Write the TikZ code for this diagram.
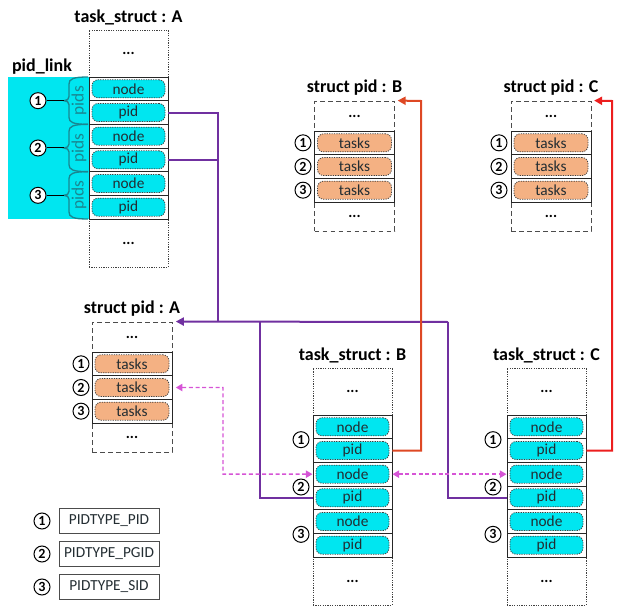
\documentclass[tikz,border=0pt]{standalone}
\usepackage{fontspec}
\setmainfont{Carlito}
\usetikzlibrary{arrows.meta}
\definecolor{cyanF}{RGB}{0,230,240}
\definecolor{orangeF}{RGB}{244,177,131}
\definecolor{tealB}{RGB}{25,135,145}
\definecolor{purpL}{RGB}{112,48,160}
\definecolor{redB}{RGB}{222,72,36}
\definecolor{redC}{RGB}{236,30,30}
\definecolor{pinkL}{RGB}{214,84,214}
\definecolor{txtD}{RGB}{35,45,50}
\tikzset{
  txt/.style={font=\fontsize{11.5}{13}\selectfont},
  ttl/.style={font=\bfseries\fontsize{13.5}{15}\selectfont, inner sep=0pt},
  dots/.style={font=\bfseries\fontsize{11.5}{13}\selectfont, inner sep=0pt},
  tsouter/.style={draw=black!75, line width=0.6pt, dash pattern=on 0.9pt off 0.9pt, minimum width=59.25pt, minimum height=177.75pt, inner sep=0pt},
  spouter/.style={draw=black!70, line width=0.7pt, dash pattern=on 3.5pt off 2.5pt, minimum width=60pt, minimum height=97.5pt, inner sep=0pt},
  cell/.style={draw=black!85, line width=0.7pt, minimum width=59.25pt, minimum height=17.75pt, inner sep=0pt},
  spcell/.style={cell, minimum width=60pt},
  nbox/.style={draw=black!75, fill=cyanF, dash pattern=on 0.9pt off 0.9pt, line width=0.6pt, rounded corners=4.5pt, minimum width=54.75pt, minimum height=13.5pt, inner sep=0pt, txt, text=txtD},
  tbox/.style={nbox, fill=orangeF, minimum width=55.5pt},
  num/.style={circle, draw=black, line width=0.75pt, fill=white, minimum size=12pt, inner sep=0pt, font=\bfseries\fontsize{10.5}{11}\selectfont},
  legbox/.style={draw=black!70, line width=0.7pt, minimum width=75pt, minimum height=18.75pt, inner sep=0pt, txt, text=txtD},
  conn/.style={line width=1.5pt},
  tip/.style={-{Triangle[length=6pt,width=6pt]}},
  dtip/.style={{Triangle[length=5pt,width=5.5pt]}-{Triangle[length=5pt,width=5.5pt]}},
  pinkd/.style={draw=pinkL, line width=1.1pt, dash pattern=on 3pt off 2pt},
}
\newcommand\TaskS[4]{%
  \node[ttl] (#1-t) at (#2,{#3-13}) {#4};
  \node[tsouter] (#1) at (#2,{#3+118.5}) {};
  \node[dots] (#1-d1) at (#2,{#3+23.5}) {...};
  \node[dots] (#1-d2) at (#2,{#3+213}) {...};
  \foreach \i/\lab in {1/node,2/pid,3/node,4/pid,5/node,6/pid}{
    \node[cell] (#1-r\i) at (#2,{#3+47+(\i-0.5)*23.67}) {};
    \node[nbox] (#1-b\i) at (#2,{#3+47+(\i-0.5)*23.67}) {\lab};
  }
}
\newcommand\StructP[4]{%
  \node[ttl] (#1-t) at (#2,{#3-13}) {#4};
  \node[spouter] (#1) at (#2,{#3+65}) {};
  \node[dots] (#1-d1) at (#2,{#3+15}) {...};
  \node[dots] (#1-d2) at (#2,{#3+115.5}) {...};
  \foreach \i in {1,2,3}{
    \node[spcell] (#1-r\i) at (#2,{#3+30+(\i-0.5)*23.67}) {};
    \node[tbox] (#1-b\i) at (#2,{#3+30+(\i-0.5)*23.67}) {tasks};
  }
}
\begin{document}
\begin{tikzpicture}[x=0.75pt,y=-0.75pt]
\useasboundingbox (0,0) rectangle (621,613);
% pid_link background
\fill[cyanF] (8,77) rectangle (89,219);
\node[ttl] (pl) at (42,67) {pid\_link};
% structures
\TaskS{tA}{128.5}{30}{task\_struct : A}
\TaskS{tB}{352.5}{368}{task\_struct : B}
\TaskS{tC}{546.5}{368}{task\_struct : C}
\StructP{pA}{132}{322}{struct pid : A}
\StructP{pB}{354.5}{101}{struct pid : B}
\StructP{pC}{551}{101}{struct pid : C}
% braces
\foreach \k/\ya in {1/77,2/124.33,3/171.67}{
  \pgfmathsetmacro\yb{\ya+47.33}
  \pgfmathsetmacro\ym{\ya+23.67}
  \draw[tealB, line width=1pt] (88,\ya) .. controls (73,\ya) and (69,{\ya+2}) .. (69,{\ya+7}) -- (69,{\ym-4}) .. controls (69,{\ym-1.5}) and (67,\ym) .. (64,\ym) .. controls (67,\ym) and (69,{\ym+1.5}) .. (69,{\ym+4}) -- (69,{\yb-7}) .. controls (69,{\yb-2}) and (73,\yb) .. (88,\yb);
  \coordinate (bt\k) at (64,\ym);
  \node[rotate=90, text=tealB, font=\fontsize{13}{14}\selectfont, inner sep=0pt] (pids\k) at (79,\ym) {pids};
  \node[num] (cL\k) at (38,\ym) {\k};
  \draw[line width=0.75pt] (cL\k) -- (bt\k);
}
% numbers
\foreach \i in {1,2,3}{
  \node[num] (pA-c\i) at (81,{352+(\i-0.5)*23.67}) {\i};
  \node[num] (pB-c\i) at (303,{131+(\i-0.5)*23.67}) {\i};
  \node[num] (pC-c\i) at (499,{131+(\i-0.5)*23.67}) {\i};
  \node[num] (tB-c\i) at (301,{416+(2*\i-1)*23.67}) {\i};
  \node[num] (tC-c\i) at (493,{416+(2*\i-1)*23.67}) {\i};
}
% legend
\foreach \k/\lab in {1/PIDTYPE\_PID,2/PIDTYPE\_PGID,3/PIDTYPE\_SID}{
  \node[num] (lg-c\k) at (42,{521+(\k-1)*33}) {\k};
  \node[legbox] (lg-b\k) at (109,{521+(\k-1)*33}) {\lab};
}
% purple connectors
\coordinate (jA) at (218,322);
\coordinate (jB) at (260,322);
\coordinate (jC) at (448,322);
\draw[conn,purpL] (tA-r2.east) -| (jA);
\draw[conn,purpL] (tA-r4.east) -- (tA-r4.east -| jA);
\draw[conn,purpL,tip,shorten >=2.5pt] (jC) -- (pA.north east);
\draw[conn,purpL] (jB) |- (tB-r4.west);
\draw[conn,purpL] (jC) |- (tC-r4.west);
% red connectors
\coordinate (rB) at (421,101);
\coordinate (rC) at (612,101);
\draw[conn,redB,tip,shorten >=2pt] (tB-r2.east) -| (rB) -- (pB.north east);
\draw[conn,redC,tip,shorten >=2pt] (tC-r2.east) -| (rC) -- (pC.north east);
% pink dashed connectors
\coordinate (kA) at (223,387.5);
\draw[pinkd,dtip,shorten >=2.5pt] (tB-r3.west) -| (kA) -- (pA-r2.east);
\draw[pinkd,dtip] (tB-r3.east) -- (tC-r3.west);
\end{tikzpicture}
\end{document}
